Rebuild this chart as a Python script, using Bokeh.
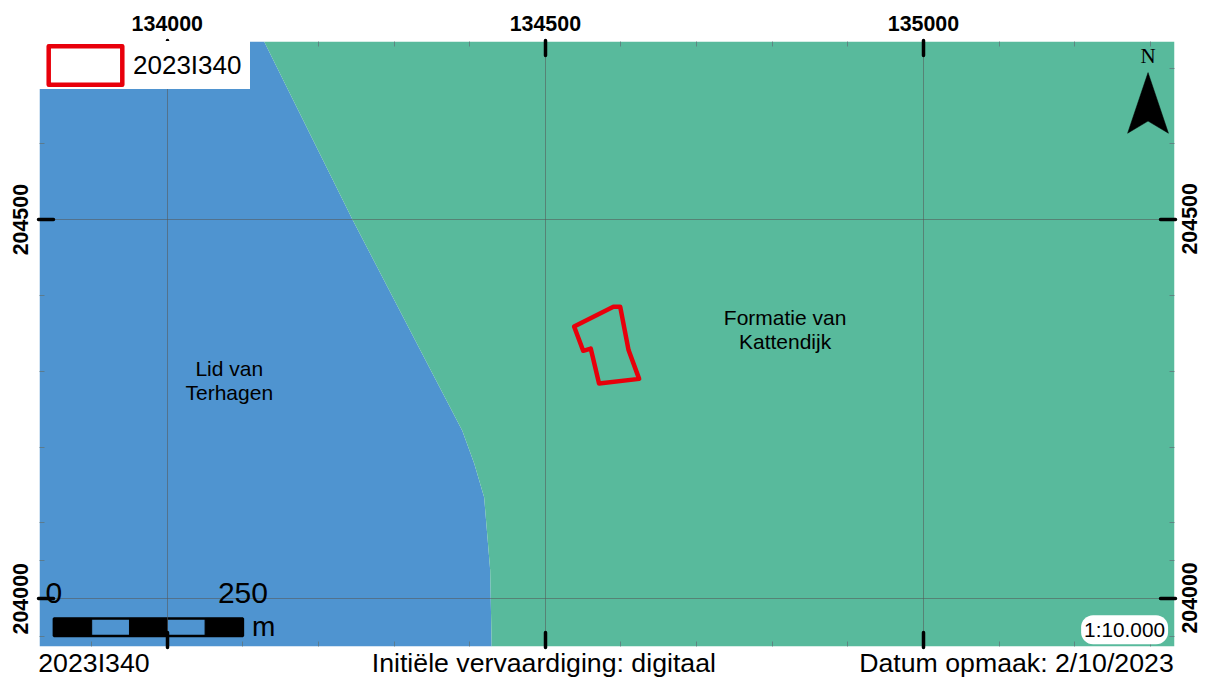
from math import pi
from bokeh.embed import file_html
from bokeh.resources import INLINE
from bokeh.plotting import figure
from bokeh.models import (Range1d, LinearAxis, FixedTicker, Label, Legend, LegendItem, Grid,
                          CustomJSTickFormatter, BasicTickFormatter)

# map extent (Lambert metres)
x_min, x_max = 133831, 135332
y_min, y_max = 203937, 204735

x_ticks = [134000, 134500, 135000]
y_ticks = [204000, 204500]
x_minor = [133900, 134100, 134200, 134300, 134400, 134600, 134700, 134800, 134900, 135100, 135200, 135300]
y_minor = [203950, 204050, 204100, 204200, 204300, 204400, 204600, 204700]

# footer texts and where they are centred along the map's x axis
footer_x = [133903, 134498, 135123]
footer_text = ["2023I340", "Initiële vervaardiging: digitaal", "Datum opmaak: 2/10/2023"]

# y tick labels of the right-hand side
right_label_y = [203954, 204454]
right_label_text = ["204000", "204500"]

# boundary between the two formations, north to south
boundary_x = [134128, 134245, 134335, 134390, 134406, 134419, 134427, 134429]
boundary_y = [204735, 204500, 204327, 204222, 204178, 204134, 204038, 203937]

# parcel 2023I340
parcel_x = [134538, 134590, 134599, 134610, 134624, 134571, 134560, 134550]
parcel_y = [204359, 204385, 204385, 204328, 204290, 204284, 204330, 204327]

# north arrow
arrow_x = [135297, 135324, 135297, 135270]
arrow_y = [204694, 204614, 204630, 204614]

# scale bar (metres)
scale_x0, scale_y0, scale_y1 = 133850, 203951, 203974
scale_left = [0, 100, 200]
scale_right = [50, 150, 250]

BLUE, GREEN = "#4F94D0", "#58BA9C"
FONT = "Liberation Sans"

p = figure(frame_width=1135, frame_height=605, output_backend="svg", toolbar_location=None,
           x_range=Range1d(x_min, x_max), y_range=Range1d(y_min, y_max),
           x_axis_location=None, y_axis_location=None,
           min_border_left=39, min_border_right=34, min_border_top=41, min_border_bottom=31)
p.outline_line_color = None
p.background_fill_color = "white"

p.patch([x_min] + boundary_x + [x_min], [y_max] + boundary_y + [y_min],
        fill_color=BLUE, line_color=None)
p.patch([x_max] + boundary_x + [x_max], [y_max] + boundary_y + [y_min],
        fill_color=GREEN, line_color=None)

parcel = p.patch(parcel_x, parcel_y, fill_color=None, line_color="#E8000B", line_width=4.5,
                 line_join="round")

p.patch(arrow_x, arrow_y, fill_color="black", line_color="black", line_width=0.5)
p.quad(left=[scale_x0 + v for v in scale_left], right=[scale_x0 + v for v in scale_right],
       bottom=scale_y0, top=scale_y1, fill_color="black", line_color="black")
p.quad(left=[scale_x0], right=[scale_x0 + scale_right[-1]], bottom=scale_y0, top=scale_y1,
       fill_color=None, line_color="black", line_width=2.5)

xt = FixedTicker(ticks=x_ticks, minor_ticks=x_minor)
yt = FixedTicker(ticks=y_ticks, minor_ticks=y_minor)
blank = CustomJSTickFormatter(code="return ''")
plain = BasicTickFormatter(use_scientific=False)


def style(ax):
    ax.axis_line_color = None
    ax.major_tick_line_color = "black"
    ax.major_tick_line_width = 3.5
    ax.major_tick_line_cap = "round"
    ax.major_tick_in = 14
    ax.major_tick_out = 1
    ax.minor_tick_line_color = "#5f7378"
    ax.minor_tick_line_alpha = 0.75
    ax.minor_tick_line_width = 1
    ax.minor_tick_in = 5
    ax.minor_tick_out = 0
    ax.major_label_text_font = FONT
    ax.major_label_text_font_style = "bold"
    ax.major_label_text_font_size = "21.4px"
    ax.major_label_text_color = "black"


top = LinearAxis(ticker=xt, formatter=plain)
bottom = LinearAxis(ticker=xt, formatter=blank)
left = LinearAxis(ticker=yt, formatter=plain)
right = LinearAxis(ticker=yt, formatter=blank)
for ax in (top, bottom, left, right):
    style(ax)
top.major_label_standoff = 10
bottom.major_label_standoff = 0
bottom.major_label_text_font_size = "1px"
right.major_label_text_font_size = "1px"
left.major_label_orientation = "parallel"
left.major_label_standoff = 10
right.major_label_standoff = 0
p.add_layout(top, "above")
p.add_layout(bottom, "below")
p.add_layout(left, "left")
p.add_layout(right, "right")

right_labels = LinearAxis(ticker=FixedTicker(ticks=right_label_y),
                          major_label_overrides=dict(zip(right_label_y, right_label_text)),
                          major_label_orientation=pi / 2, major_label_standoff=14)
style(right_labels)
right_labels.major_tick_line_color = None
right_labels.major_tick_in = 0
right_labels.major_tick_out = 0
p.add_layout(right_labels, "right")

footer = LinearAxis(ticker=FixedTicker(ticks=footer_x),
                    major_label_overrides=dict(zip(footer_x, footer_text)),
                    major_label_standoff=0)
footer.axis_line_color = None
footer.major_tick_line_color = None
footer.minor_tick_line_color = None
footer.major_tick_in = 0
footer.major_tick_out = 0
footer.major_label_text_font = FONT
footer.major_label_text_font_size = "26.7px"
footer.major_label_text_color = "black"
p.add_layout(footer, "below")

p.grid.visible = False
p.add_layout(Grid(dimension=0, ticker=xt, grid_line_color="#555555", grid_line_alpha=0.55,
                  grid_line_width=1, level="glyph"))
p.add_layout(Grid(dimension=1, ticker=yt, grid_line_color="#555555", grid_line_alpha=0.55,
                  grid_line_width=1, level="glyph"))

legend = Legend(items=[LegendItem(label="2023I340", renderers=[parcel])], location="top_left",
                margin=0, padding=0, spacing=0, glyph_width=92, glyph_height=48, label_standoff=2,
                label_width=117, label_text_font=FONT, label_text_font_size="26px",
                label_text_color="black", label_text_baseline="middle",
                background_fill_color="white", background_fill_alpha=1, border_line_color=None)
p.add_layout(legend)


def label(x, y, text, size, align="left", baseline="alphabetic", font=FONT, **kw):
    p.add_layout(Label(x=x, y=y, text=text, text_font=font, text_font_size=size, text_align=align,
                       text_baseline=baseline, text_color="black", **kw))


label(134082, 204288, "Lid van\nTerhagen", "21px", "center", "middle", text_line_height=1.05)
label(134817, 204355, "Formatie van\nKattendijk", "21px", "center", "middle", text_line_height=1.05)
label(135297, 204716, "N", "21px", "center", font="Liberation Serif")
label(scale_x0, 204007, "0", "30px", "center")
label(scale_x0 + 250, 204007, "250", "30px", "center")
label(134112, 203963, "m", "28px")
label(135266, 203959, "1:10.000", "20.8px", "center", "middle",
      background_fill_color="white", border_radius=12, padding=3)

open("out.html", "w").write(file_html(p, INLINE))
